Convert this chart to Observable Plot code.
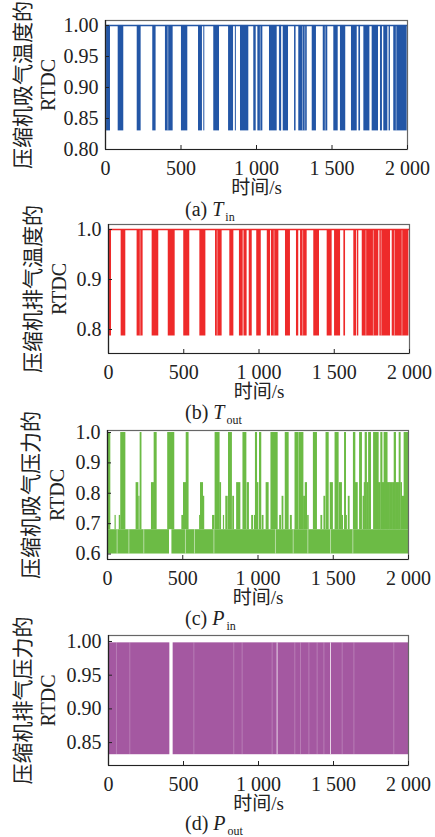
<!DOCTYPE html>
<html><head><meta charset="utf-8">
<script src="https://cdn.jsdelivr.net/npm/d3@7"></script>
<script src="https://cdn.jsdelivr.net/npm/@observablehq/plot@0.6"></script>
<style>
body{margin:0;background:#fff;}
#wrap{position:relative;width:435px;height:837px;overflow:hidden;font-family:"Liberation Serif","Noto Sans CJK SC",serif;color:#222;}
.panel{position:absolute;left:0;}
.cap{position:absolute;left:185px;font-size:20px;line-height:24px;white-space:nowrap;color:#222;}
.cap sub{font-size:12px;vertical-align:baseline;position:relative;top:5px;margin-left:2px;}
</style></head><body><div id="wrap"></div><script>
// ---------- shared axis data ----------
const xTicks = [0, 500, 1000, 1500, 2000];
const xTickLabels = ["0", "500", "1 000", "1 500", "2 000"];
const xLabel = "时间/s";

// ---------- (a) T_in ----------
const aTicks = [0.80, 0.85, 0.90, 0.95, 1.00];
const aTickLabels = ["0.80", "0.85", "0.90", "0.95", "1.00"];
const aLabel = "压缩机吸气温度的";
const aHigh = 1.0, aLow = 0.83;
const aBlockStart = [7, 84, 210, 313, 397, 503, 616, 717, 815, 894, 982, 1009, 1086, 1177, 1252, 1280, 1369, 1442, 1512, 1556, 1629, 1678, 1711, 1766, 1821, 1843, 1878, 1909];
const aBlockEnd   = [33, 121, 236, 335, 448, 545, 642, 755, 848, 949, 998, 1042, 1137, 1212, 1262, 1336, 1397, 1472, 1541, 1591, 1667, 1689, 1751, 1808, 1834, 1870, 1887, 1998];
const aThin = [651, 860, 1152, 1159, 1160];
const aLight = [413, 1025, 1305, 1320, 1455, 1925];

// ---------- (b) T_out ----------
const bTicks = [0.8, 0.9, 1.0];
const bTickLabels = ["0.8", "0.9", "1.0"];
const bLabel = "压缩机排气温度的";
const bHigh = 1.0, bLow = 0.787;
const bBlockStart = [0, 84, 190, 290, 397, 500, 607, 711, 806, 870, 900, 935, 985, 1055, 1083, 1176, 1249, 1276, 1364, 1453, 1502, 1564, 1630, 1653, 1686, 1803, 1885];
const bBlockEnd   = [20, 115, 230, 334, 443, 540, 647, 755, 833, 895, 921, 955, 1015, 1077, 1132, 1209, 1264, 1320, 1402, 1486, 1542, 1575, 1648, 1663, 1796, 1874, 1996];
const bLight = [210, 722, 1100, 1290, 1710, 1760, 1812, 1900, 1950];

// ---------- (c) P_in ----------
const cTicks = [0.6, 0.7, 0.8, 0.9, 1.0];
const cTickLabels = ["0.6", "0.7", "0.8", "0.9", "1.0"];
const cLabel = "压缩机吸气压力的";
const cBandLow = 0.60, cBandHigh = 0.68;
const cBandStart = [0, 428];
const cBandEnd = [412, 2000];
const cSpikeStart = [0, 50, 78, 88, 190, 208, 217, 292, 310, 400, 494, 505, 523, 612, 618, 636, 698, 715, 746, 770, 786, 804, 832, 858, 900, 928, 958, 976, 983, 995, 1010, 1028, 1054, 1086, 1144, 1160, 1181, 1215, 1246, 1274, 1303, 1314, 1330, 1368, 1418, 1438, 1452, 1480, 1512, 1540, 1558, 1575, 1586, 1600, 1634, 1648, 1675, 1698, 1706, 1712, 1725, 1735, 1768, 1801, 1816, 1826, 1838, 1860, 1878, 1900, 1905, 1918, 1938, 1949, 1956, 1971];
const cSpikeEnd   = [22, 58, 88, 122, 208, 216, 229, 312, 330, 447, 507, 525, 542, 620, 638, 646, 714, 748, 758, 778, 802, 830, 844, 886, 926, 943, 970, 985, 997, 1006, 1025, 1040, 1074, 1134, 1156, 1172, 1207, 1228, 1273, 1305, 1316, 1329, 1340, 1395, 1430, 1450, 1473, 1501, 1539, 1561, 1568, 1588, 1594, 1612, 1650, 1666, 1694, 1708, 1714, 1727, 1737, 1754, 1805, 1818, 1830, 1842, 1864, 1880, 1900, 1909, 1920, 1940, 1951, 1960, 1975, 2000];
const cSpikeLevel = [1.0, 0.727, 0.727, 1.0, 0.835, 0.79, 1.0, 0.835, 1.0, 1.0, 0.727, 0.835, 1.0, 0.727, 0.835, 0.79, 0.727, 1.0, 0.835, 0.727, 0.79, 1.0, 0.79, 0.835, 1.0, 0.835, 0.727, 0.727, 1.0, 0.835, 1.0, 0.727, 0.835, 1.0, 0.727, 0.79, 1.0, 0.727, 1.0, 1.0, 0.79, 0.835, 0.727, 1.0, 0.727, 0.79, 1.0, 0.835, 1.0, 0.835, 0.727, 1.0, 0.727, 0.79, 1.0, 0.835, 1.0, 0.79, 0.835, 1.0, 0.835, 1.0, 1.0, 0.835, 1.0, 0.835, 1.0, 0.835, 0.835, 0.835, 1.0, 0.835, 1.0, 0.835, 0.79, 1.0];
const cLight = [64, 142, 241, 518, 578, 707, 1116, 1234, 1331, 1482, 1630];

// ---------- (d) P_out ----------
const dTicks = [0.85, 0.90, 0.95, 1.00];
const dTickLabels = ["0.85", "0.90", "0.95", "1.00"];
const dLabel = "压缩机排气压力的";
const dHigh = 0.998, dLow = 0.832;
const dBlockStart = [0, 431];
const dBlockEnd = [409, 2000];
const dLight = [53, 142, 569, 835, 891, 1091, 1242, 1280, 1336, 1391, 1436, 1558, 1636, 1902];
const dBright = [1124, 1480];

const blue = "#2356a6", red = "#ee2a2a", green = "#6cbb45", purple = "#a458a1";
const ink = "#222";

function idx(a) { return d3.range(a.length); }

function panel({top, height, ml, mr, yDomain, yTicks, yTickLabels, label, cnDx, rtDx, marks}) {
  const svg = Plot.plot({
    width: 435, height,
    marginLeft: ml, marginRight: mr, marginTop: 20, marginBottom: 46,
    style: {background: "none", overflow: "visible", fontFamily: '"Liberation Serif","Noto Sans CJK SC",serif', fontSize: "20px", color: ink},
    x: {domain: [0, 2000]},
    y: {domain: yDomain},
    marks: [
      ...marks,
      Plot.frame({stroke: "#666", strokeWidth: 1.2}),
      Plot.ruleX([0], {stroke: ink, strokeWidth: 1.2}),
      Plot.ruleY([yDomain[0]], {stroke: ink, strokeWidth: 1.2}),
      Plot.axisX(xTicks, {tickSize: -4, tickPadding: 15, label: null, fontSize: 20,
        tickFormat: d => xTickLabels[xTicks.indexOf(d)]}),
      Plot.axisY(yTicks, {tickSize: -4, tickPadding: 11, label: null, fontSize: 20,
        tickFormat: d => yTickLabels[yTicks.indexOf(d)]}),
      Plot.text([xLabel], {frameAnchor: "bottom", lineAnchor: "middle", textAnchor: "middle", dy: 38, fontSize: 19, text: d => d, fill: ink}),
      Plot.text([label], {frameAnchor: "left", textAnchor: "middle", lineAnchor: "middle", rotate: -90, dx: cnDx, fontSize: 21, text: d => d, fill: ink,
        fontFamily: '"Noto Sans CJK SC",sans-serif'}),
      Plot.text(["RTDC"], {frameAnchor: "left", textAnchor: "middle", lineAnchor: "middle", rotate: -90, dx: rtDx, fontSize: 20, text: d => d, fill: ink})
    ]
  });
  svg.classList.add("panel");
  svg.style.top = top + "px";
  return svg;
}

const wrap = document.getElementById("wrap");

// (a)
wrap.appendChild(panel({
  top: 0, height: 195, ml: 105, mr: 28, yDomain: [0.80, 1.008], yTicks: aTicks, yTickLabels: aTickLabels,
  label: aLabel, cnDx: -82, rtDx: -57,
  marks: [
    Plot.rect(idx(aBlockStart), {x1: i => aBlockStart[i], x2: i => aBlockEnd[i], y1: () => aLow, y2: () => aHigh, fill: blue}),
    Plot.ruleX(aThin, {y1: () => aLow, y2: () => aHigh, stroke: blue, strokeWidth: 1}),
    Plot.ruleX(aLight, {y1: () => aLow, y2: () => aHigh, stroke: "white", strokeOpacity: 0.45}),
    Plot.ruleY([aHigh], {stroke: blue, strokeWidth: 1.6})
  ]
}));

// (b)
wrap.appendChild(panel({
  top: 204, height: 195, ml: 108, mr: 26, yDomain: [0.752, 1.010], yTicks: bTicks, yTickLabels: bTickLabels,
  label: bLabel, cnDx: -75, rtDx: -49,
  marks: [
    Plot.rect(idx(bBlockStart), {x1: i => bBlockStart[i], x2: i => bBlockEnd[i], y1: () => bLow, y2: () => bHigh, fill: red}),
    Plot.ruleX(bLight, {y1: () => bLow, y2: () => bHigh, stroke: "white", strokeOpacity: 0.45}),
    Plot.ruleY([bHigh], {stroke: red, strokeWidth: 1.6})
  ]
}));

// (c)
wrap.appendChild(panel({
  top: 410, height: 195, ml: 107, mr: 27, yDomain: [0.582, 1.0066], yTicks: cTicks, yTickLabels: cTickLabels,
  label: cLabel, cnDx: -76, rtDx: -50,
  marks: [
    Plot.rect(idx(cBandStart), {x1: i => cBandStart[i], x2: i => cBandEnd[i], y1: () => cBandLow, y2: () => cBandHigh, fill: green}),
    Plot.rect(idx(cSpikeStart), {x1: i => cSpikeStart[i], x2: i => cSpikeEnd[i], y1: () => cBandHigh, y2: i => cSpikeLevel[i], fill: green}),
    Plot.ruleX(cLight, {y1: () => cBandLow, y2: () => cBandHigh, stroke: "white", strokeOpacity: 0.5})
  ]
}));

// (d)
wrap.appendChild(panel({
  top: 615, height: 196, ml: 108, mr: 27, yDomain: [0.816, 1.0089], yTicks: dTicks, yTickLabels: dTickLabels,
  label: dLabel, cnDx: -85, rtDx: -60,
  marks: [
    Plot.rect(idx(dBlockStart), {x1: i => dBlockStart[i], x2: i => dBlockEnd[i], y1: () => dLow, y2: () => dHigh, fill: purple}),
    Plot.ruleX(dLight, {y1: () => dLow, y2: () => dHigh, stroke: "white", strokeOpacity: 0.22}),
    Plot.ruleX(dBright, {y1: () => dLow, y2: () => dHigh, stroke: "white", strokeOpacity: 0.75})
  ]
}));

// captions
const caps = [
  {top: 197, letter: "(a) ", sym: "T", sub: "in"},
  {top: 400, letter: "(b) ", sym: "T", sub: "out"},
  {top: 606, letter: "(c) ", sym: "P", sub: "in"},
  {top: 811, letter: "(d) ", sym: "P", sub: "out"}
];
for (const c of caps) {
  const div = document.createElement("div");
  div.className = "cap";
  div.style.top = c.top + "px";
  div.innerHTML = `${c.letter}<i>${c.sym}</i><sub>${c.sub}</sub>`;
  wrap.appendChild(div);
}
</script></body></html>
